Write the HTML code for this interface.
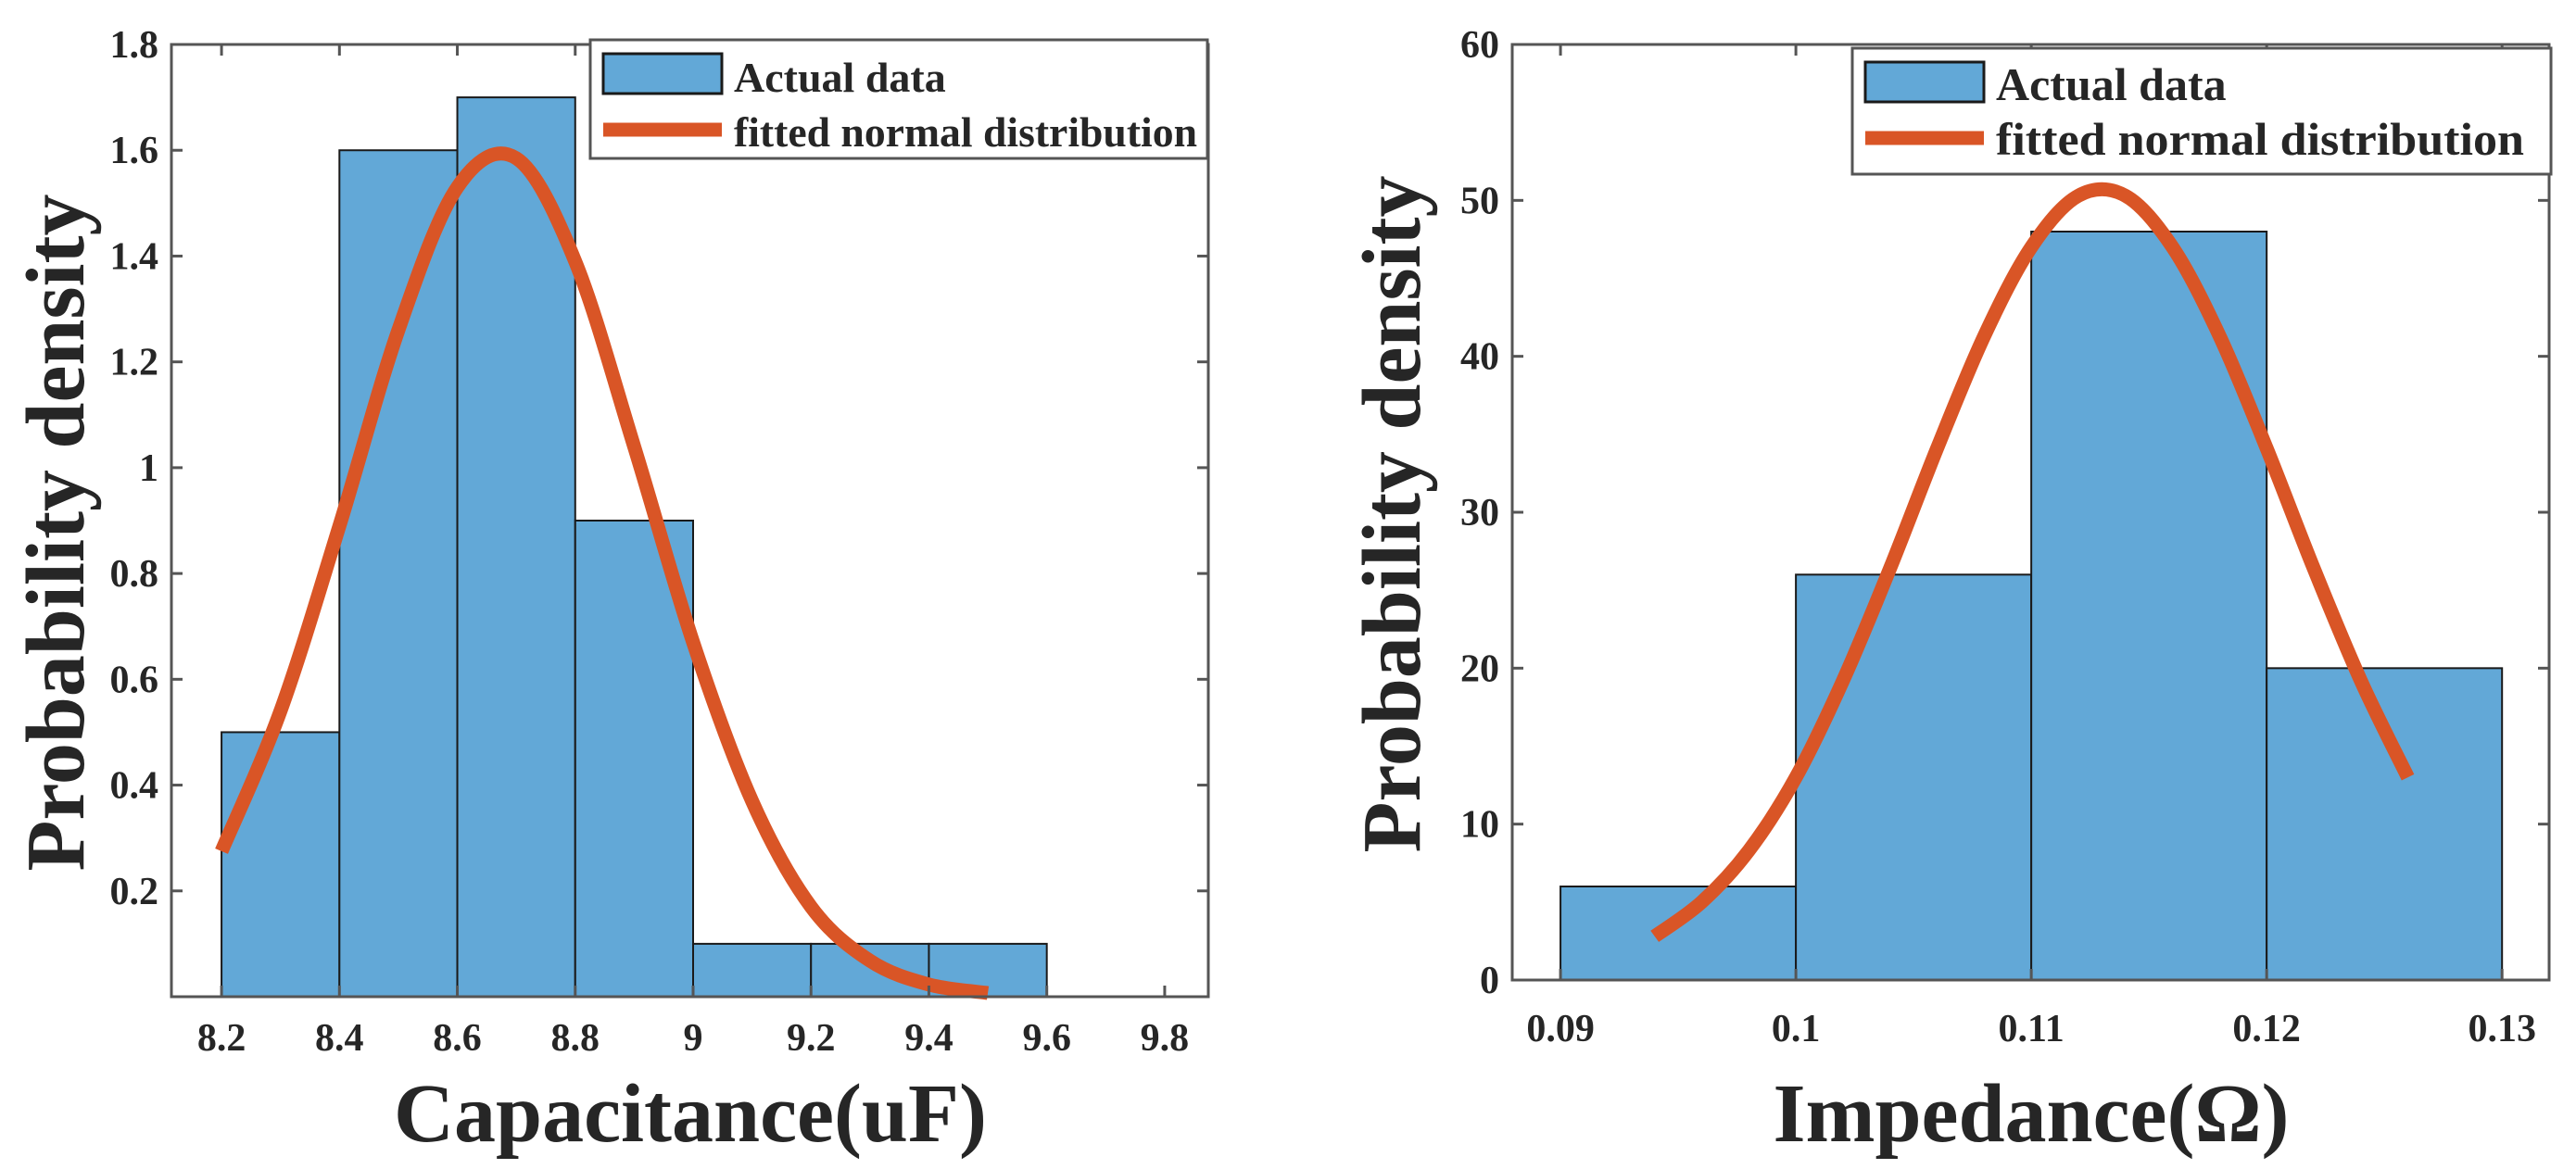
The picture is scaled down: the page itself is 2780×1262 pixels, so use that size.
<!DOCTYPE html>
<html><head><meta charset="utf-8"><style>
html,body{margin:0;padding:0;background:#fff;}
svg{display:block;}
text{font-family:"Liberation Serif",serif;font-weight:bold;fill:#262626;}
</style></head><body>
<svg id="fig" width="2780" height="1262" viewBox="0 0 2780 1262" xmlns="http://www.w3.org/2000/svg"></svg>
<script>
// ---- Left chart data (Capacitance) ----
const capBinEdges = [8.2, 8.4, 8.6, 8.8, 9.0, 9.2, 9.4, 9.6];
const capDensity = [0.5, 1.6, 1.7, 0.9, 0.1, 0.1, 0.1];
const capCurveX = [8.2, 8.3, 8.4, 8.5, 8.6, 8.7, 8.8, 8.9, 9.0, 9.1, 9.2, 9.3, 9.4, 9.5];
const capCurveY = [0.275, 0.54, 0.89, 1.26, 1.53, 1.585, 1.39, 1.04, 0.67, 0.37, 0.17, 0.068, 0.023, 0.007];
const capXTicks = [8.2, 8.4, 8.6, 8.8, 9.0, 9.2, 9.4, 9.6, 9.8];
const capXTickLabels = ["8.2","8.4","8.6","8.8","9","9.2","9.4","9.6","9.8"];
const capYTicks = [0.2, 0.4, 0.6, 0.8, 1.0, 1.2, 1.4, 1.6, 1.8];
const capYTickLabels = ["0.2","0.4","0.6","0.8","1","1.2","1.4","1.6","1.8"];
// ---- Right chart data (Impedance) ----
const impBinEdges = [0.09, 0.10, 0.11, 0.12, 0.13];
const impDensity = [6, 26, 48, 20];
const impCurveX = [0.094, 0.096, 0.098, 0.100, 0.102, 0.104, 0.106, 0.108, 0.110, 0.112, 0.114, 0.116, 0.118, 0.120, 0.122, 0.124, 0.126];
const impCurveY = [2.8, 5.0, 8.3, 13.0, 19.2, 26.4, 34.1, 41.3, 47.0, 50.3, 50.3, 47.0, 41.3, 34.1, 26.4, 19.2, 13.0];
const impXTicks = [0.09, 0.10, 0.11, 0.12, 0.13];
const impXTickLabels = ["0.09","0.1","0.11","0.12","0.13"];
const impYTicks = [0, 10, 20, 30, 40, 50, 60];
const impYTickLabels = ["0","10","20","30","40","50","60"];

const NS = "http://www.w3.org/2000/svg";
const svg = document.getElementById('fig');
function mk(tag, attrs, parent) {
  const e = document.createElementNS(NS, tag);
  for (const k in attrs) e.setAttribute(k, attrs[k]);
  (parent || svg).appendChild(e);
  return e;
}
function smoothPath(pts) {
  let d = "M" + pts[0][0] + "," + pts[0][1];
  for (let i = 0; i < pts.length - 1; i++) {
    const p0 = pts[Math.max(0, i - 1)], p1 = pts[i], p2 = pts[i + 1], p3 = pts[Math.min(pts.length - 1, i + 2)];
    const c1x = p1[0] + (p2[0] - p0[0]) / 6, c1y = p1[1] + (p2[1] - p0[1]) / 6;
    const c2x = p2[0] - (p3[0] - p1[0]) / 6, c2y = p2[1] - (p3[1] - p1[1]) / 6;
    d += " C" + c1x + "," + c1y + " " + c2x + "," + c2y + " " + p2[0] + "," + p2[1];
  }
  return d;
}

function drawChart(cfg) {
  const g = mk('g', {});
  
  
  const sx = v => cfg.L + (v - cfg.xmin) / (cfg.xmax - cfg.xmin) * (cfg.R - cfg.L);
  const sy = v => cfg.B - (v - cfg.ymin) / (cfg.ymax - cfg.ymin) * (cfg.B - cfg.T);
  for (let i = 0; i < cfg.vals.length; i++) {
    const x0 = sx(cfg.edges[i]), x1 = sx(cfg.edges[i + 1]), y = sy(cfg.vals[i]);
    const r = mk('rect', {x: x0, y: y, width: x1 - x0, height: cfg.B - y, fill: '#62a8d7', stroke: '#1a1a1a', 'stroke-width': 2}, g);
    
    
  }
  const pts = cfg.cx.map((x, i) => [sx(x), sy(cfg.cy[i])]);
  const c = mk('path', {d: smoothPath(pts), fill: 'none', stroke: '#d95526', 'stroke-width': 15}, g);
  
  
  const ax = mk('rect', {x: cfg.L, y: cfg.T, width: cfg.R - cfg.L, height: cfg.B - cfg.T, fill: 'none', stroke: '#555', 'stroke-width': 3}, g);
  
  
  cfg.xt.forEach((v, i) => {
    const x = sx(v);
    mk('line', {x1: x, y1: cfg.B, x2: x, y2: cfg.B - 12, stroke: '#555', 'stroke-width': 3}, g);
    mk('line', {x1: x, y1: cfg.T, x2: x, y2: cfg.T + 12, stroke: '#555', 'stroke-width': 3}, g);
    const t = mk('text', {x: x, y: cfg.xtY, 'font-size': 42, 'text-anchor': 'middle'}, g);
    t.textContent = cfg.xtl[i];
    
    
  });
  cfg.yt.forEach((v, i) => {
    const y = sy(v);
    mk('line', {x1: cfg.L, y1: y, x2: cfg.L + 12, y2: y, stroke: '#555', 'stroke-width': 3}, g);
    mk('line', {x1: cfg.R, y1: y, x2: cfg.R - 12, y2: y, stroke: '#555', 'stroke-width': 3}, g);
    const t = mk('text', {x: cfg.L - 14, y: y + 14, 'font-size': 42, 'text-anchor': 'end'}, g);
    t.textContent = cfg.ytl[i];
    
    
  });
  const xl = mk('text', {x: cfg.xlX, y: 1232, 'font-size': 90, 'text-anchor': 'middle'}, g);
  xl.textContent = cfg.xlabel;
  
  
  const yl = mk('text', {x: 0, y: 0, 'font-size': 90, 'text-anchor': 'middle', transform: 'translate(' + cfg.ylX + ',' + cfg.ylY + ') rotate(-90)'}, g);
  yl.textContent = 'Probability density';
  
  
  const lg = mk('g', {}, g);
  
  
  const lgd = cfg.leg;
  mk('rect', {x: lgd.x, y: lgd.y, width: lgd.w, height: lgd.h, fill: '#fff', stroke: '#555', 'stroke-width': 3}, lg);
  const pe = mk('rect', {x: lgd.x + 14, y: lgd.y + 15, width: 128, height: 43, fill: '#62a8d7', stroke: '#1a1a1a', 'stroke-width': 3}, lg);
  
  
  const le = mk('line', {x1: lgd.x + 14, y1: lgd.y + 97, x2: lgd.x + 142, y2: lgd.y + 97, stroke: '#d95526', 'stroke-width': 15}, lg);
  
  
  const t1 = mk('text', {x: lgd.x + 155, y: lgd.y + 56, 'font-size': lgd.fs, fill: '#000'}, lg);
  t1.textContent = 'Actual data';
  const t2 = mk('text', {x: lgd.x + 155, y: lgd.y + 115, 'font-size': lgd.fs, fill: '#000', textLength: lgd.tl, lengthAdjust: 'spacingAndGlyphs'}, lg);
  t2.textContent = 'fitted normal distribution';
}

drawChart({name: 'capacitance-chart', L: 185, R: 1304, T: 48, B: 1076, xmin: 8.115, xmax: 9.874, ymin: 0, ymax: 1.8,
  edges: capBinEdges, vals: capDensity, cx: capCurveX, cy: capCurveY,
  xt: capXTicks, xtl: capXTickLabels, yt: capYTicks, ytl: capYTickLabels, xtY: 1134,
  xlabel: 'Capacitance(uF)', xlX: 745, ylX: 90, ylY: 575,
  leg: {x: 637, y: 43, w: 666, h: 128, fs: 46, tl: 500}});
drawChart({name: 'impedance-chart', L: 1632, R: 2751, T: 48, B: 1058, xmin: 0.08795, xmax: 0.132, ymin: 0, ymax: 60,
  edges: impBinEdges, vals: impDensity, cx: impCurveX, cy: impCurveY,
  xt: impXTicks, xtl: impXTickLabels, yt: impYTicks, ytl: impYTickLabels, xtY: 1124,
  xlabel: 'Impedance(Ω)', xlX: 2192, ylX: 1532, ylY: 555,
  leg: {x: 1999, y: 52, w: 754, h: 136, fs: 50, tl: 570}});
</script>
</body></html>
